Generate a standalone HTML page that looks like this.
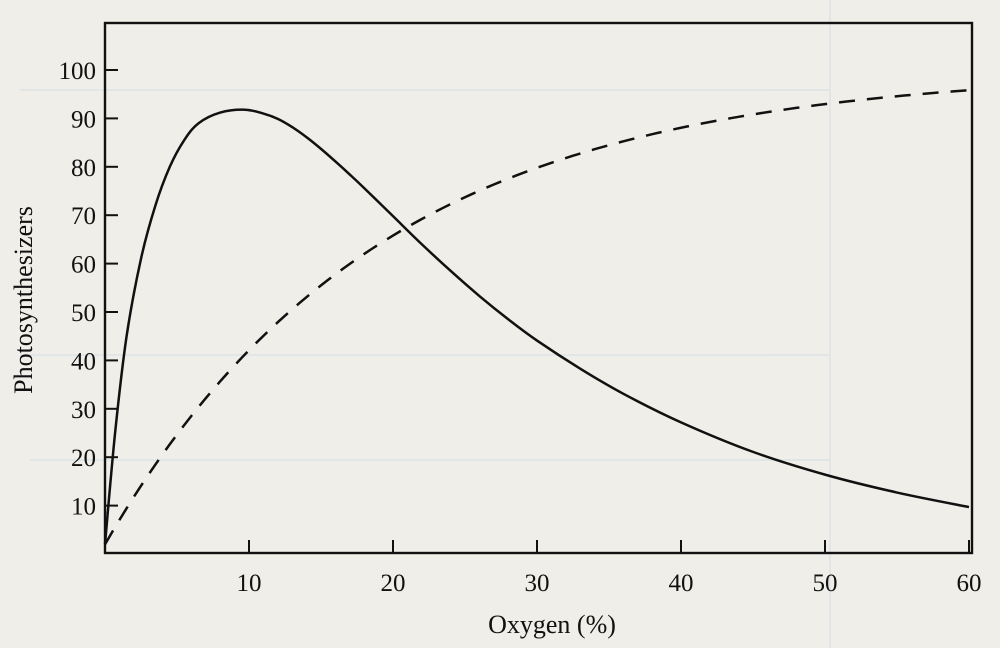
<!DOCTYPE html>
<html><head><meta charset="utf-8"><style>
html,body{margin:0;padding:0;background:#efeee8;}
svg{display:block}
text{font-family:"Liberation Serif",serif;fill:#111;}
</style></head><body>
<svg id="s" width="1000" height="648" viewBox="0 0 1000 648">
<rect width="1000" height="648" fill="#efeee8"/>
<g stroke="#dfe3e6" stroke-width="2" fill="none" opacity="0.8">
<line x1="20" y1="90" x2="830" y2="90"/><line x1="20" y1="355" x2="830" y2="355"/>
<line x1="830" y1="0" x2="830" y2="648"/><line x1="30" y1="460" x2="830" y2="460"/>
</g>
<rect x="105" y="23" width="867" height="530" fill="none" stroke="#111" stroke-width="2.4"/>
<g id="ticks" stroke="#111" stroke-width="2"></g>
<g font-size="25" text-anchor="end" id="yl"></g>
<g font-size="25" text-anchor="middle" id="xl"></g>
<text x="552" y="633" font-size="26" text-anchor="middle">Oxygen (%)</text>
<text transform="translate(32,300) rotate(-90)" font-size="26" text-anchor="middle">Photosynthesizers</text>
<path id="sol" fill="none" stroke="#111" stroke-width="2.5"/>
<path id="das" fill="none" stroke="#111" stroke-width="2.5" stroke-dasharray="16,12"/>
</svg>
<script>
var X=function(v){return 105+v*14.4},Y=function(v){return 554-v*4.84};
var t='',yl='',xl='';
for(var i=1;i<=10;i++){var y=Y(i*10);t+='<line x1="105" y1="'+y+'" x2="118" y2="'+y+'"/>';yl+='<text x="96" y="'+(y+9)+'">'+(i*10)+'</text>';}
for(var i=1;i<=6;i++){var x=X(i*10);t+='<line x1="'+x+'" y1="553" x2="'+x+'" y2="540"/>';xl+='<text x="'+x+'" y="591">'+(i*10)+'</text>';}
document.getElementById('ticks').innerHTML=t;document.getElementById('yl').innerHTML=yl;document.getElementById('xl').innerHTML=xl;
var p=[[0,2],[0.7,25],[1.5,45],[2.5,61],[3.5,72],[4.5,80],[5.5,85.5],[6.5,89],[8,91.2],[9.7,91.8],[11,91],[12,89.9],[13,88.2],[14,86.1],[15,83.7],[16,81.1],[17,78.4],[18,75.6],[20,69.8],[22,64],[24,58.5],[26,53.3],[28,48.5],[30,44.1],[33,38.3],[36,33.1],[40,27.2],[45,21.1],[50,16.4],[55,12.7],[60,9.7]];
function cr(p){var d='M'+X(p[0][0])+','+Y(p[0][1]);for(var i=0;i<p.length-1;i++){var a=p[i>0?i-1:0],b=p[i],c=p[i+1],e=p[i+2<p.length?i+2:i+1];
var x1=X(b[0])+(X(c[0])-X(a[0]))/6,y1=Y(b[1])+(Y(c[1])-Y(a[1]))/6,x2=X(c[0])-(X(e[0])-X(b[0]))/6,y2=Y(c[1])-(Y(e[1])-Y(b[1]))/6;
d+=' C'+x1+','+y1+' '+x2+','+y2+' '+X(c[0])+','+Y(c[1]);}return d;}
document.getElementById('sol').setAttribute('d',cr(p));
var d='';for(var x=0;x<=60;x+=0.5){var v=2+98*(1-Math.exp(-x/19));d+=(x?'L':'M')+X(x)+','+Y(v);}
document.getElementById('das').setAttribute('d',d);
</script>
</body></html>
